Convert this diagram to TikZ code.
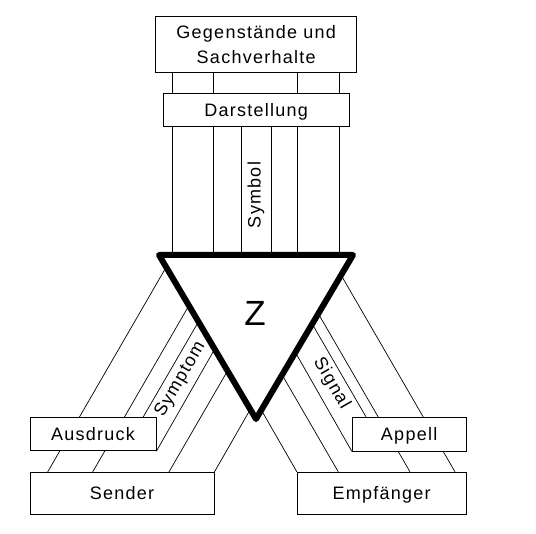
\documentclass[tikz,border=0pt]{standalone}
\usepackage{fontspec}
\setmainfont{Liberation Sans}[LetterSpace=7]
\newfontfamily\zfont{Liberation Sans}
\newcommand\labfont{\fontsize{18}{25}\selectfont}
\begin{document}
\begin{tikzpicture}[x=1pt,y=-1pt,
  box/.style={draw=black, line width=0.9pt, fill=white, inner sep=0pt, font=\labfont},
  onebox/.style={box, text height=13pt, text depth=0pt},
  conn/.style={line width=0.7pt},
  vconn/.style={line width=0.9pt},
  tri/.style={line width=6pt, line join=round, fill=white},
  rlabel/.style={inner sep=0pt, font=\labfont}]
\useasboundingbox (0,0) rectangle (536,534);

% triangle corners
\coordinate (TL) at (159,255);
\coordinate (TR) at (353,255);
\coordinate (B)  at (256,419);

% boxes (positions only)
\path (256.2,44.5) node[box, align=center, minimum width=201pt, minimum height=55.6pt] (top) {Gegenstände und\\Sachverhalte};

% vertical connectors from the top box
\foreach \x in {172,213.7,297.3,339.7}
  \draw[vconn] (\x,0 |- top.south) -- (\x,0 |- TL);

\path (256.2,110) node[onebox, minimum width=185.7pt, minimum height=33.4pt] (dar) {Darstellung};
\foreach \x in {241.7,271}
  \draw[vconn] (\x,0 |- dar.south) -- (\x,0 |- TL);

% left side start points on the triangle edge
\coordinate (l1) at (166.2,267.1);
\coordinate (l2) at (188.9,305.6);
\coordinate (l3) at (198.5,321.7);
\coordinate (l4) at (214.7,349.1);
\coordinate (l5) at (227.5,370.9);
\coordinate (l6) at (250.3,409.4);
% right side start points on the triangle edge
\coordinate (r1) at (341.1,275.1);
\coordinate (r2) at (318.3,313.6);
\coordinate (r3) at (312.2,324.0);
\coordinate (r4) at (295.4,352.4);
\coordinate (r5) at (282.1,374.9);
\coordinate (r6) at (261.3,410.0);

\path (122,493.2) node[onebox, minimum width=184pt, minimum height=41.7pt] (sender) {Sender};
\path (381.65,493.15) node[onebox, minimum width=168.7pt, minimum height=41.7pt] (empf) {Empfänger};

% connectors to Sender / Empfänger (drawn below the small boxes)
\draw[conn] (l1) -- (47.7,0 |- sender.north);
\draw[conn] (l2) -- (92.7,0 |- sender.north);
\draw[conn] (l5) -- (169,0 |- sender.north);
\draw[conn] (l6) -- (sender.north east);
\draw[conn] (r1) -- (455,0 |- empf.north);
\draw[conn] (r2) -- (410,0 |- empf.north);
\draw[conn] (r5) -- (338.3,0 |- empf.north);
\draw[conn] (r6) -- (empf.north west);

\path (93,434) node[onebox, minimum width=126pt, minimum height=33.4pt] (aus) {Ausdruck};
\path (409.15,434.15) node[onebox, minimum width=113.7pt, minimum height=33.7pt] (app) {Appell};

\draw[conn] (l3) -- (143.3,0 |- aus.north);
\draw[conn] (l4) -- (aus.south east);
\draw[conn] (r3) -- (366,0 |- app.north);
\draw[conn] (r4) -- (app.south west);

% triangle
\draw[tri] (TL) -- (TR) -- (B) -- cycle;
\node[inner sep=0pt, font=\zfont\fontsize{35}{35}\selectfont] (z) at (255,313) {Z};

% rotated labels
\node[rlabel, rotate=90] (symbol) at (256,195) {Symbol};
\node[rlabel, rotate=60] (symptom) at (180.5,379.5) {Symptom};
\node[rlabel, rotate=-60] (signal) at (331.5,383.3) {Signal};
\end{tikzpicture}
\end{document}
